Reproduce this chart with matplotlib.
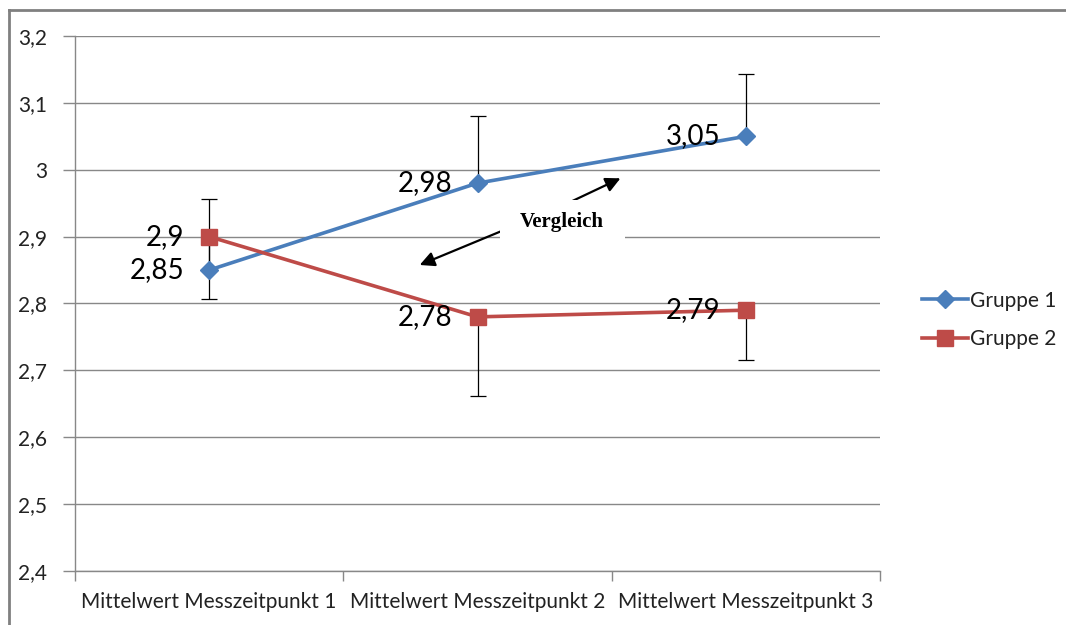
import matplotlib.pyplot as plt
from matplotlib.lines import Line2D

plt.rcParams['font.family'] = ['Lato', 'DejaVu Sans']

categories = ["Mittelwert Messzeitpunkt 1", "Mittelwert Messzeitpunkt 2",
              "Mittelwert Messzeitpunkt 3"]
gruppe1 = [2.85, 2.98, 3.05]
gruppe2 = [2.90, 2.78, 2.79]
# Excel chart shows only upper bars for group 1 and lower bars for group 2
err1_plus = [0.106, 0.100, 0.093]
err2_minus = [0.093, 0.118, 0.075]
label1 = ["2,85", "2,98", "3,05"]
label2 = ["2,9", "2,78", "2,79"]
yticks = [2.4, 2.5, 2.6, 2.7, 2.8, 2.9, 3.0, 3.1, 3.2]
ytick_labels = ["2,4", "2,5", "2,6", "2,7", "2,8", "2,9", "3", "3,1", "3,2"]

BLUE = "#4A7EBB"
RED = "#BE4B48"
GRID = "#888888"

fig = plt.figure(figsize=(10.66, 6.25), dpi=100)
ax = fig.add_axes([75 / 1066, 1 - 571 / 625, 805 / 1066, 535 / 625])

x = list(range(len(categories)))

ax.errorbar(x, gruppe1, yerr=[[0] * 3, err1_plus], fmt='none', ecolor='black',
            elinewidth=0.9, capsize=6, capthick=0.9, zorder=2)
ax.errorbar(x, gruppe2, yerr=[err2_minus, [0] * 3], fmt='none', ecolor='black',
            elinewidth=0.9, capsize=6, capthick=0.9, zorder=2)

ax.plot(x, gruppe1, color=BLUE, lw=2.6, marker='D', markersize=9.5,
        markeredgecolor=BLUE, label="Gruppe 1", zorder=3)
ax.plot(x, gruppe2, color=RED, lw=2.6, marker='s', markersize=11.5,
        markeredgecolor=RED, label="Gruppe 2", zorder=3)

for xi, yi, t in zip(x, gruppe1, label1):
    ax.annotate(t, (xi, yi), xytext=(-18, 0), textcoords='offset points',
                ha='right', va='center', fontsize=20, color='black', zorder=4)
for xi, yi, t in zip(x, gruppe2, label2):
    ax.annotate(t, (xi, yi), xytext=(-18, 0), textcoords='offset points',
                ha='right', va='center', fontsize=20, color='black', zorder=4)

# "Vergleich" arrows and text box
arrow = dict(arrowstyle='-|>', color='black', lw=1.6, mutation_scale=22)
ax.annotate("", xy=(1.542, 2.989), xytext=(1.31, 2.945), arrowprops=arrow, zorder=5)
ax.annotate("", xy=(0.775, 2.856), xytext=(1.31, 2.945), arrowprops=arrow, zorder=5)
ax.add_patch(plt.Rectangle((1.084, 2.888), 0.466, 0.067, facecolor='white',
                           edgecolor='none', zorder=6))
ax.text(1.315, 2.922, "Vergleich", ha='center', va='center', fontsize=15,
        fontweight='bold', family='Liberation Serif', zorder=7)

ax.set_xlim(-0.5, 2.5)
ax.set_ylim(2.4, 3.2)
ax.set_yticks(yticks)
ax.set_yticklabels(ytick_labels)
ax.set_xticks(x)
ax.set_xticklabels(categories)
ax.set_xticks([-0.5, 0.5, 1.5, 2.5], minor=True)
ax.tick_params(axis='x', which='major', length=0, pad=15, labelsize=15, labelcolor='#222222')
ax.tick_params(axis='x', which='minor', length=7, color=GRID, width=1)
ax.tick_params(axis='y', length=9, color=GRID, width=1, pad=11, labelsize=15,
               labelcolor='#222222')
ax.grid(axis='y', color=GRID, lw=1)
ax.set_axisbelow(True)
for s in ['top', 'right']:
    ax.spines[s].set_visible(False)
for s in ['left', 'bottom']:
    ax.spines[s].set_color(GRID)
    ax.spines[s].set_linewidth(1)

handles = [Line2D([], [], color=BLUE, lw=2.6, marker='D', markersize=9.5),
           Line2D([], [], color=RED, lw=2.6, marker='s', markersize=11.5)]
fig.legend(handles, ["Gruppe 1", "Gruppe 2"], loc='center left',
           bbox_to_anchor=(903 / 1066, 1 - 320 / 625), frameon=False,
           fontsize=15, handlelength=2.2, handletextpad=0.1, labelspacing=0.9,
           labelcolor='#222222')

# outer frame (left and top edge visible)
fig.add_artist(Line2D([9 / 1066, 9 / 1066], [0, 1 - 10 / 625], color='#808080',
                      lw=2, transform=fig.transFigure))
fig.add_artist(Line2D([9 / 1066, 1], [1 - 10 / 625, 1 - 10 / 625], color='#808080',
                      lw=2, transform=fig.transFigure))

fig.savefig("out.png", dpi=100, facecolor='white')
